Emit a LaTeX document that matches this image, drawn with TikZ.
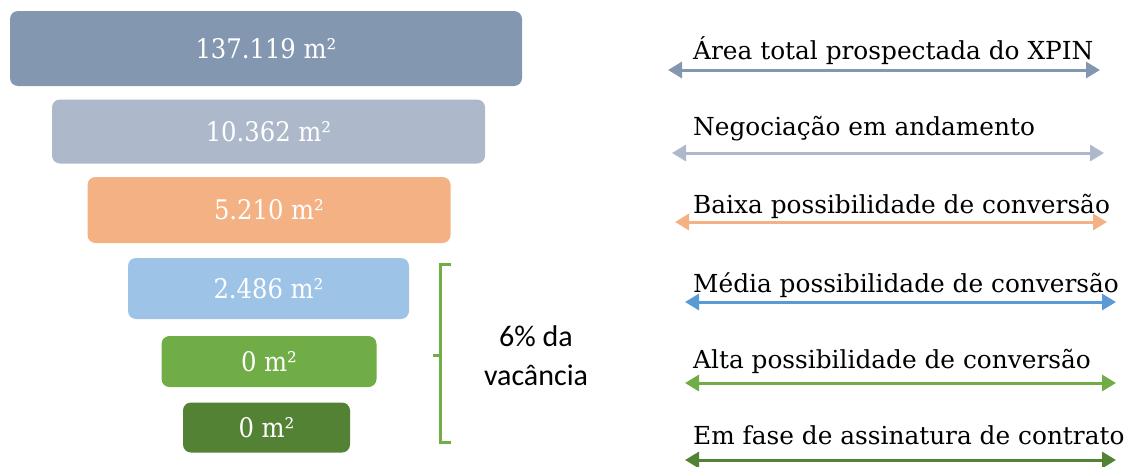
\documentclass[tikz,border=0pt]{standalone}
\usepackage{fontspec}
\setmainfont{DejaVu Serif}
\newfontfamily\calfont{Carlito}
\newfontfamily\numfont{DejaVu Serif Condensed}
\usetikzlibrary{arrows.meta}
\definecolor{c1}{HTML}{8497B0}
\definecolor{c2}{HTML}{ADB9CA}
\definecolor{c3}{HTML}{F4B183}
\definecolor{c4}{HTML}{9DC3E6}
\definecolor{c4d}{HTML}{5B9BD5}
\definecolor{c5}{HTML}{70AD47}
\definecolor{c6}{HTML}{548235}
\begin{document}
\begin{tikzpicture}[x=1pt, y=-1pt,
  box/.style = {rounded corners=8pt, inner sep=0pt, text=white, font=\numfont\fontsize{27}{32}\selectfont},
  lbl/.style = {anchor=base west, inner sep=0pt, font=\fontsize{24.8}{30}\selectfont},
  arr/.style = {line width=3pt, {Triangle[length=14pt,width=16pt]}-{Triangle[length=14pt,width=16pt]}}]
\useasboundingbox (0,0) rectangle (1127,466);
\node[box, fill=c1, minimum width=512pt, minimum height=75pt] (1) at (266,48.5) {137.119 m²};
\node[box, fill=c2, minimum width=433pt, minimum height=64pt] (2) at (268.5,131.5) {10.362 m²};
\node[box, fill=c3, minimum width=363pt, minimum height=66pt] (3) at (269,210) {5.210 m²};
\node[box, fill=c4, minimum width=281pt, minimum height=61pt] (4) at (268.5,288.5) {2.486 m²};
\node[box, fill=c5, minimum width=215pt, minimum height=51pt] (5) at (269,361.5) {0 m²};
\node[box, fill=c6, minimum width=167pt, minimum height=50pt] (6) at (266.5,427.5) {0 m²};
\draw[c5, line width=3pt] (451,264) -- (440,264) -- (440,442) -- (451,442) (440,355) -- (433,355);
\node[align=center, font=\calfont\fontsize{30}{39}\selectfont] (vac) at (536,356) {6\% da\\vacância};
\node[lbl] (t1) at (693,59) {Área total prospectada do XPIN};
\node[lbl] (t2) at (693,135) {Negociação em andamento};
\node[lbl] (t3) at (693,213) {Baixa possibilidade de conversão};
\node[lbl] (t4) at (693,292) {Média possibilidade de conversão};
\node[lbl] (t5) at (693,368) {Alta possibilidade de conversão};
\node[lbl] (t6) at (693,444) {Em fase de assinatura de contrato};
\coordinate (l1) at (668,70); \coordinate (r1) at (1100,70);
\coordinate (l2) at (672,153); \coordinate (r2) at (1104,153);
\coordinate (l3) at (675,222); \coordinate (r3) at (1107,222);
\coordinate (l4) at (685,302); \coordinate (r4) at (1116,302);
\coordinate (l5) at (685,383); \coordinate (r5) at (1116,383);
\coordinate (l6) at (685,460); \coordinate (r6) at (1116,460);
\draw[arr, c1] (l1) -- (r1);
\draw[arr, c2] (l2) -- (r2);
\draw[arr, c3] (l3) -- (r3);
\draw[arr, c4d] (l4) -- (r4);
\draw[arr, c5] (l5) -- (r5);
\draw[arr, c6] (l6) -- (r6);
\end{tikzpicture}
\end{document}
